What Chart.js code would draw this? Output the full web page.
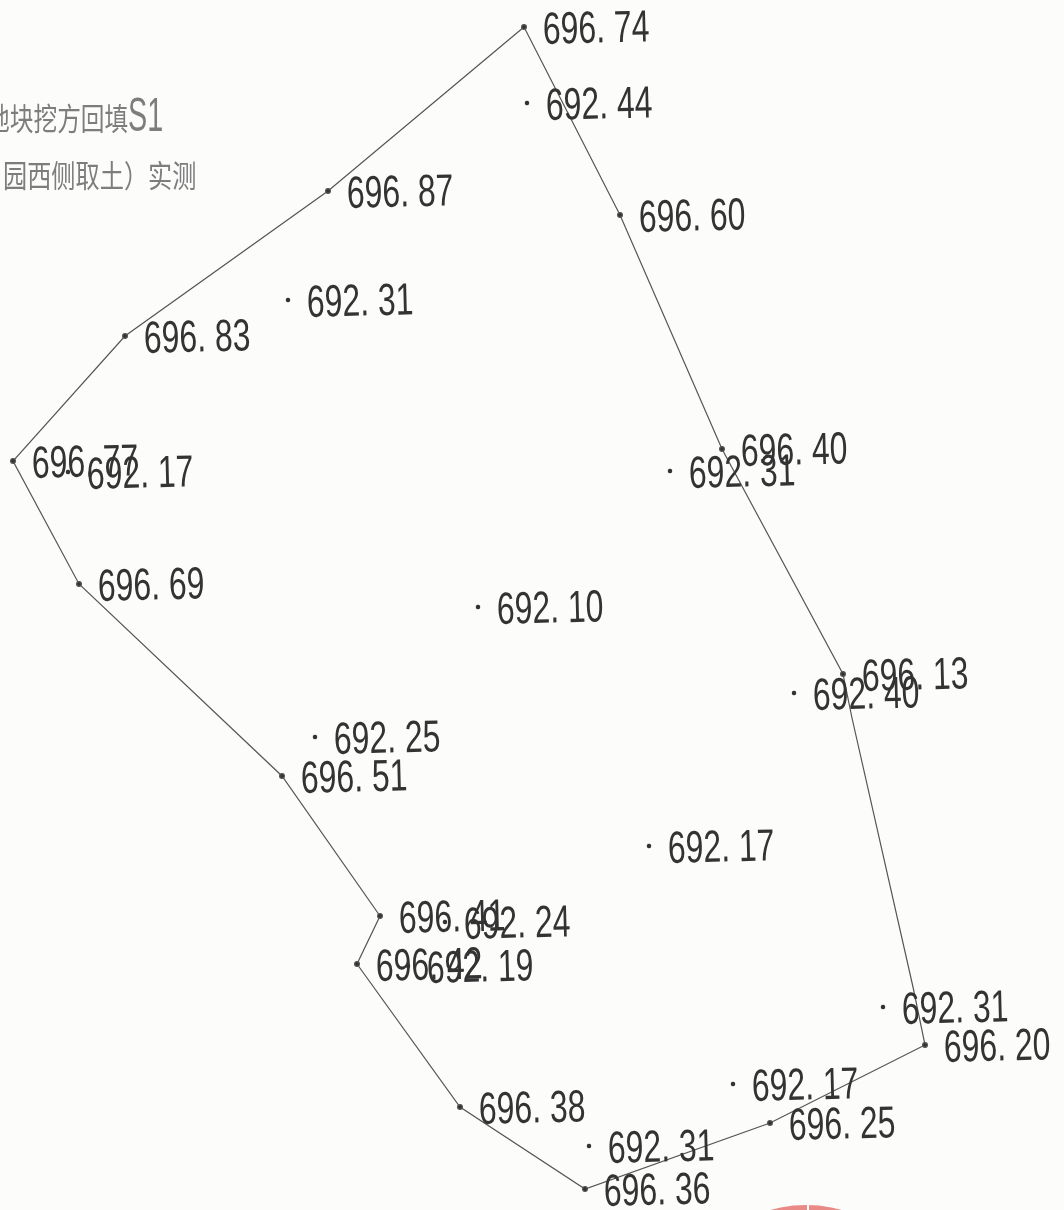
<!DOCTYPE html>
<html>
<head>
<meta charset="utf-8">
<title>地块挖方回填S1</title>
<script src="https://cdn.jsdelivr.net/npm/chart.js@4"></script>
<style>
  html, body { margin: 0; padding: 0; background: #fcfcfb; overflow: hidden; }
  canvas { display: block; }
</style>
</head>
<body>
<canvas id="chart-1" width="1064" height="1210"></canvas>
<script>
// boundary traverse, in drawing order (closed back to the first point)
const boundaryX = [524, 620, 722, 843, 852, 913, 925, 770, 585, 460, 357, 380, 282, 79, 13, 125, 328, 524];
const boundaryY = [27, 215, 449, 674, 718, 987, 1045, 1123, 1189, 1107, 964, 916, 776, 584, 461, 336, 191, 27];
// null = bend in the line with no spot height
const boundaryHeights = [696.74, 696.60, 696.40, 696.13, null, null, 696.20, 696.25, 696.36, 696.38, 696.42, 696.41, 696.51, 696.69, 696.77, 696.83, 696.87, null];

// spot heights inside the pit
const innerX = [527, 288, 68, 670, 478, 794, 315, 649, 445, 408, 883, 733, 589];
const innerY = [103, 300, 472, 471, 607, 693, 737, 846, 922, 966, 1007, 1084, 1146];
const innerHeights = [692.44, 692.31, 692.17, 692.31, 692.10, 692.40, 692.25, 692.17, 692.24, 692.19, 692.31, 692.17, 692.31];

const titleLines = ['地块挖方回填', '园西侧取土）实测'];
const titleTag = 'S1';

const heightLabels = {
  id: 'heightLabels',
  beforeDraw(chart) {
    const c = chart.ctx;
    // corner of the round stamp at the bottom edge
    c.save();
    c.fillStyle = '#ea8a86';
    c.beginPath();
    c.arc(806, 1335, 130, 0, Math.PI * 2);
    c.fill();
    c.fillStyle = '#fcfcfb';
    c.fillRect(807, 1200, 2, 10);
    c.restore();
  },
  afterDatasetsDraw(chart) {
    const c = chart.ctx;
    const xs = chart.scales.x, ys = chart.scales.y;
    c.save();
    c.fillStyle = '#333';
    c.textBaseline = 'middle';
    c.textAlign = 'left';
    const put = (px, py, h) => {
      if (h === null) return;
      c.save();
      c.translate(xs.getPixelForValue(px) + 19, ys.getPixelForValue(py) + 4.5);
      c.rotate(-0.025);
      c.scale(0.71, 1);
      c.font = '45px "Liberation Sans"';
      c.fillText(h.toFixed(2).replace('.', '. '), 0, 0);
      c.restore();
    };
    boundaryHeights.forEach((h, i) => put(boundaryX[i], boundaryY[i], h));
    innerHeights.forEach((h, i) => put(innerX[i], innerY[i], h));

    // title, cut off by the left edge like the scan
    c.fillStyle = '#7d7d7d';
    const stretched = (text, x, y, font, sx) => {
      c.save();
      c.translate(x, y);
      c.scale(sx, 1);
      c.font = font;
      c.fillText(text, 0, 0);
      c.restore();
    };
    stretched(titleLines[0], -14, 118, '31px "Noto Sans CJK SC"', 0.765);
    stretched(titleLines[1], 3, 175, '31px "Noto Sans CJK SC"', 0.78);
    stretched(titleTag, 128, 118, '48px "Liberation Sans"', 0.6);
    c.restore();
  }
};

new Chart(document.getElementById('chart-1'), {
  type: 'scatter',
  data: {
    datasets: [{
      label: 'boundary',
      data: boundaryX.map((x, i) => ({ x: x, y: boundaryY[i] })),
      showLine: true,
      tension: 0,
      borderColor: '#555',
      borderWidth: 1.2,
      backgroundColor: '#333',
      pointRadius: boundaryHeights.map(h => h === null ? 0 : 2.4)
    }, {
      label: 'inner',
      data: innerX.map((x, i) => ({ x: x, y: innerY[i] })),
      showLine: false,
      backgroundColor: '#333',
      pointRadius: 2.2
    }]
  },
  options: {
    responsive: false,
    animation: false,
    devicePixelRatio: 1,
    layout: { padding: 0, autoPadding: false },
    plugins: { legend: { display: false }, tooltip: { enabled: false } },
    scales: {
      x: { type: 'linear', min: 0, max: 1064, display: false },
      y: { type: 'linear', min: 0, max: 1210, reverse: true, display: false }
    }
  },
  plugins: [heightLabels]
});
</script>
</body>
</html>
